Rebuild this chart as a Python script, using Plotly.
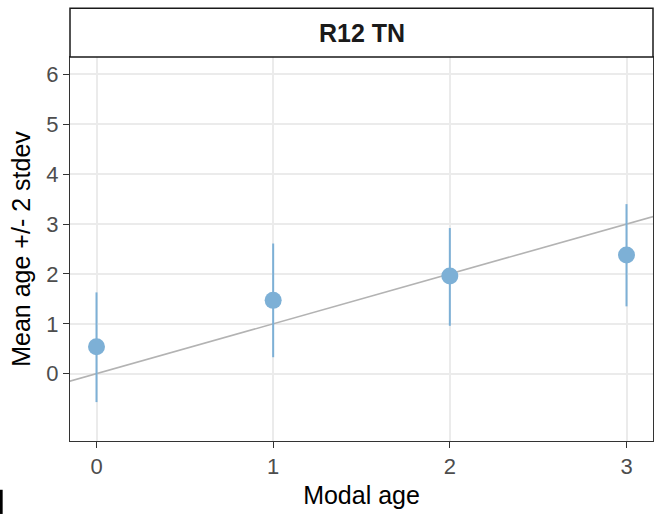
import plotly.graph_objects as go

modal_age = [0, 1, 2, 3]
mean_age = [0.54, 1.47, 1.96, 2.38]
upper = [1.63, 2.61, 2.92, 3.40]
lower = [-0.57, 0.33, 0.96, 1.35]
ref_line = [-1, 4]
x_ticks = [0, 1, 2, 3]
y_ticks = [0, 1, 2, 3, 4, 5, 6]
panel_title = "R12 TN"

err_plus = [u - m for u, m in zip(upper, mean_age)]
err_minus = [m - l for m, l in zip(mean_age, lower)]

point_col = "#7DB0D6"
font = "Liberation Sans, Arial, sans-serif"

fig = go.Figure()
fig.add_trace(go.Scatter(x=ref_line, y=ref_line, mode="lines",
                         line=dict(color="#B3B3B3", width=1.6),
                         hoverinfo="skip", showlegend=False))
fig.add_trace(go.Scatter(x=modal_age, y=mean_age, mode="markers",
                         marker=dict(color=point_col, size=17),
                         error_y=dict(type="data", symmetric=False,
                                      array=err_plus, arrayminus=err_minus,
                                      color=point_col, thickness=2, width=0),
                         showlegend=False))

axis_common = dict(showgrid=True, gridcolor="#EBEBEB", gridwidth=1.5,
                   zeroline=False, showline=True, linecolor="#333333", linewidth=1,
                   mirror=True, ticks="outside", ticklen=6, tickcolor="#333333",
                   tickwidth=1.2,
                   tickfont=dict(family=font, size=22, color="#4D4D4D"))

fig.update_xaxes(range=[-0.15, 3.15], tickvals=x_ticks,
                 title=dict(text="Modal age", font=dict(family=font, size=25, color="black"),
                            standoff=8),
                 **axis_common)
fig.update_yaxes(range=[-1.35, 6.35], tickvals=y_ticks,
                 title=dict(text="Mean age +/- 2 stdev", font=dict(family=font, size=25, color="black"),
                            standoff=8),
                 **axis_common)

# facet strip
fig.add_shape(type="rect", xref="paper", yref="paper", x0=0, x1=1, y0=1.0, y1=1.127,
              line=dict(color="#1A1A1A", width=1.5), fillcolor="white", layer="above")
fig.add_annotation(text="<b>" + panel_title + "</b>", xref="paper", yref="paper",
                   x=0.5, y=1.0625, xanchor="center", yanchor="middle", showarrow=False,
                   font=dict(family=font, size=25, color="#1A1A1A"))
# small cut-off mark at bottom-left
fig.add_shape(type="rect", xref="paper", yref="paper", x0=-0.1205, x1=-0.1155,
              y0=-0.19, y1=-0.127, line=dict(width=0), fillcolor="black")

fig.update_layout(width=662, height=517,
                  margin=dict(l=70, r=9, t=57, b=76),
                  plot_bgcolor="white", paper_bgcolor="white",
                  font=dict(family=font))

fig.write_html("out.html")
